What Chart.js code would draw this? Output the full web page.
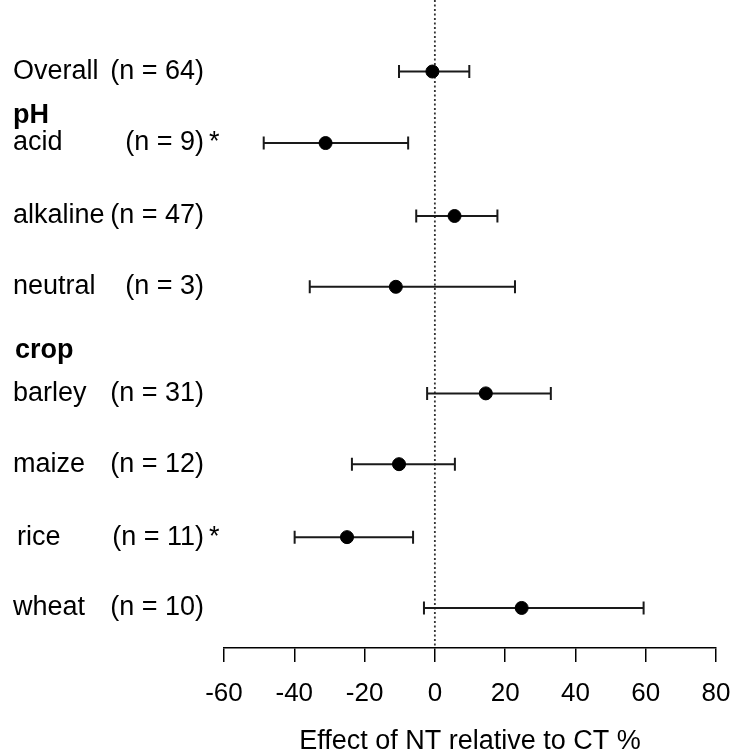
<!DOCTYPE html>
<html>
<head>
<meta charset="utf-8">
<script src="https://cdn.jsdelivr.net/npm/chart.js@4/dist/chart.umd.min.js"></script>
<style>
  html, body { margin: 0; padding: 0; background: #fff; }
  #wrap { width: 736px; height: 755px; position: relative; }
</style>
</head>
<body>
<div id="wrap"><canvas id="forest" width="736" height="755"></canvas></div>
<script>
// Subgroups and their vertical row positions (0 = top row)
const categories = ['Overall', 'acid', 'alkaline', 'neutral', 'barley', 'maize', 'rice', 'wheat'];
const rowPos     = [0, 1, 2.02, 3.01, 4.5, 5.49, 6.51, 7.5];
const sampleSize = ['(n = 64)', '(n = 9)', '(n = 47)', '(n = 3)', '(n = 31)', '(n = 12)', '(n = 11)', '(n = 10)'];
const signif     = ['', '*', '', '', '', '', '*', ''];

// Effect estimates (%) with lower / upper confidence limits
const effect = [-0.7, -31.1, 5.6, -11.1, 14.5, -10.2, -25.0, 24.7];
const lower  = [-10.2, -48.7, -5.3, -35.6, -2.2, -23.6, -39.9, -3.1];
const upper  = [9.8, -7.6, 17.8, 22.8, 33.0, 5.7, -6.2, 59.4];

// Group headings
const groupHeads = ['pH', 'crop'];
const groupPos   = [0.62, 3.9];

// x-axis ticks
const xTicks = [-60, -40, -20, 0, 20, 40, 60, 80];
const xTitle = 'Effect of NT relative to CT %';

const FONT = '"Liberation Sans", Arial, sans-serif';

const points = categories.map((c, i) => ({ x: effect[i], y: rowPos[i] }));

// Zero reference line, confidence intervals and row labels
const forestPlugin = {
  id: 'forest',
  beforeDatasetsDraw(chart) {
    const { ctx, chartArea, scales: { x, y } } = chart;
    ctx.save();
    // dotted line at zero
    const x0 = x.getPixelForValue(0);
    ctx.strokeStyle = '#333';
    ctx.lineWidth = 1.8;
    ctx.setLineDash([2, 2.5]);
    ctx.beginPath();
    ctx.moveTo(x0, 0);
    ctx.lineTo(x0, chartArea.bottom);
    ctx.stroke();
    ctx.setLineDash([]);

    // confidence intervals with end caps
    ctx.strokeStyle = '#1a1a1a';
    ctx.lineWidth = 2;
    categories.forEach((c, i) => {
      const py = y.getPixelForValue(rowPos[i]);
      const a = x.getPixelForValue(lower[i]);
      const b = x.getPixelForValue(upper[i]);
      ctx.beginPath();
      ctx.moveTo(a, py); ctx.lineTo(b, py);
      ctx.moveTo(a, py - 6.5); ctx.lineTo(a, py + 6.5);
      ctx.moveTo(b, py - 6.5); ctx.lineTo(b, py + 6.5);
      ctx.stroke();
    });
    ctx.restore();
  },
  afterDraw(chart) {
    const { ctx, scales: { y } } = chart;
    ctx.save();
    ctx.fillStyle = '#000';
    ctx.textBaseline = 'middle';
    categories.forEach((c, i) => {
      const py = y.getPixelForValue(rowPos[i]);
      ctx.font = '27px ' + FONT;
      ctx.textAlign = 'left';
      ctx.fillText(c, c === 'rice' ? 17 : 13, py);
      ctx.textAlign = 'right';
      ctx.fillText(sampleSize[i], 204, py);
      if (signif[i]) {
        ctx.textAlign = 'left';
        ctx.fillText(signif[i], 209, py);
      }
    });
    ctx.font = 'bold 27px ' + FONT;
    ctx.textAlign = 'left';
    groupHeads.forEach((g, i) => {
      ctx.fillText(g, g === 'crop' ? 15 : 13, y.getPixelForValue(groupPos[i]));
    });
    ctx.restore();
  }
};

new Chart(document.getElementById('forest'), {
  type: 'scatter',
  data: {
    datasets: [{
      data: points,
      backgroundColor: '#000',
      borderColor: '#000',
      pointRadius: 6.5,
      pointHoverRadius: 6.5
    }]
  },
  options: {
    responsive: false,
    animation: false,
    events: [],
    layout: { autoPadding: false, padding: { left: 224, right: 20, top: 0, bottom: 0 } },
    plugins: { legend: { display: false }, tooltip: { enabled: false } },
    scales: {
      x: {
        type: 'linear',
        min: xTicks[0],
        max: xTicks[xTicks.length - 1],
        afterBuildTicks(scale) { scale.ticks = xTicks.map(v => ({ value: v })); },
        afterFit(scale) { scale.height = 107; scale.paddingLeft = 0; scale.paddingRight = 0; },
        grid: { drawOnChartArea: false, drawTicks: true, tickLength: 14, color: '#000', lineWidth: 1.5 },
        border: { display: true, color: '#000', width: 1.5 },
        ticks: { color: '#000', font: { family: FONT, size: 26 }, padding: 16, maxRotation: 0 },
        title: { display: true, text: xTitle, color: '#000', font: { family: FONT, size: 27 }, padding: { top: 6, bottom: -3 } }
      },
      y: {
        type: 'linear',
        display: false,
        reverse: true,
        min: -1,
        max: 8.06
      }
    }
  },
  plugins: [forestPlugin]
});
</script>
</body>
</html>
